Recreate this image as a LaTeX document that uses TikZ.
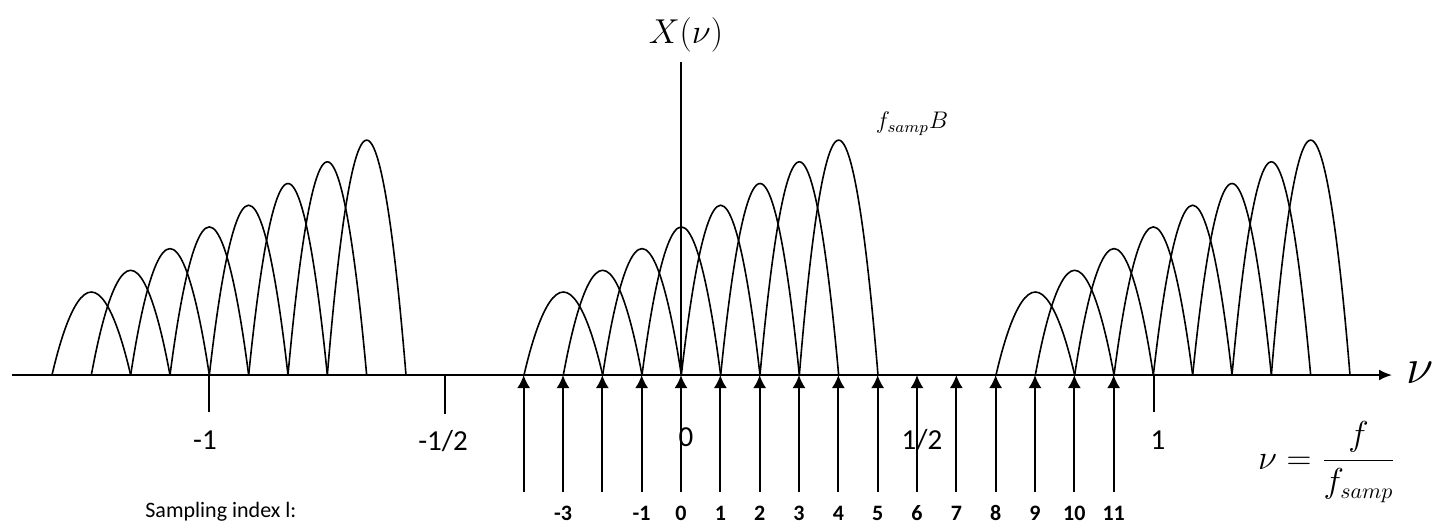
\documentclass[tikz,border=0pt]{standalone}
\usepackage{fontspec}
\setsansfont{Carlito}
\usetikzlibrary{arrows.meta}
\begin{document}
\begin{tikzpicture}[x=0.5pt,y=-0.5pt,
  arch/.style={line width=0.8pt},
  axisline/.style={line width=1pt},
  tickline/.style={line width=1pt},
  samparrow/.style={line width=1pt,-{Latex[length=6.5pt,width=6.5pt]}},
  ticklab/.style={font=\sffamily\fontsize{14.5}{17}\selectfont, inner sep=0pt},
  idxlab/.style={font=\sffamily\bfseries\fontsize{11}{13}\selectfont, inner sep=0pt},
  mathlab/.style={inner sep=0pt},
]
\useasboundingbox (0,0) rectangle (1436,526);

% spectral arches
\foreach \g in {-1,0,1}{
  \foreach \k in {0,...,7}{
    \pgfmathsetmacro\xa{524+472*\g+39.333*\k}
    \pgfmathsetmacro\xb{\xa+39.333}
    \pgfmathsetmacro\xc{\xa+78.667}
    \pgfmathsetmacro\yp{375-83-21.7*\k}
    \draw[arch] (\xa,375) parabola bend (\xb,\yp) (\xc,375);
  }
}

% axes
\coordinate (axL) at (12,375);
\coordinate (axR) at (1392,375);
\draw[axisline,-{Latex[length=6.5pt,width=5.5pt]}] (axL) -- (axR);
\coordinate (vtop) at (681,62);
\coordinate (org) at (681,375);
\draw[tickline] (vtop) -- (org);

% ticks
\coordinate (tm1a) at (209,375); \coordinate (tm1b) at (209,412);
\coordinate (tmha) at (445,375); \coordinate (tmhb) at (445,414);
\coordinate (tp1a) at (1154,375); \coordinate (tp1b) at (1154,412);
\draw[tickline] (tm1a) -- (tm1b);
\draw[tickline] (tmha) -- (tmhb);
\draw[tickline] (tp1a) -- (tp1b);

% sampling arrows
\foreach \l [count=\i] in {-4,...,11}{
  \pgfmathsetmacro\xx{681+39.333*\l}
  \coordinate (s\i) at (\xx,492);
  \coordinate (t\i) at (\xx,375);
  \draw[samparrow] (s\i) -- (t\i);
}

% tick labels
\node[ticklab] (lm1) at (205,440) {-1};
\node[ticklab] (lmh) at (443,441) {-1/2};
\node[ticklab] (l0) at (686,437) {0};
\node[ticklab] (lph) at (922,440) {1/2};
\node[ticklab] (lp1) at (1158,440) {1};

% sampling index labels
\node[idxlab, anchor=west] (sil) at (145,512) {\mdseries Sampling index l:};
\foreach \l [count=\i] in {-3,-1,0,1,2,3,4,5,6,7,8,9,10,11}{
  \pgfmathsetmacro\xx{681+39.333*\l}
  \node[idxlab] (idx\i) at (\xx,513) {\l};
}

% math labels
\node[mathlab, font=\fontsize{19}{21}\selectfont] (Xnu) at (686,35) {$X(\nu)$};
\node[mathlab, font=\fontsize{11.5}{13}\selectfont] (fsB) at (912,124) {$f_{samp}B$};
\node[mathlab, font=\fontsize{24}{26}\selectfont, anchor=base] (nu) at (1420,383) {$\nu$};
\node[mathlab, font=\fontsize{16}{18}\selectfont] (nudef) at (1327,462) {$\displaystyle\nu = \frac{f}{f_{samp}}$};
\end{tikzpicture}
\end{document}
